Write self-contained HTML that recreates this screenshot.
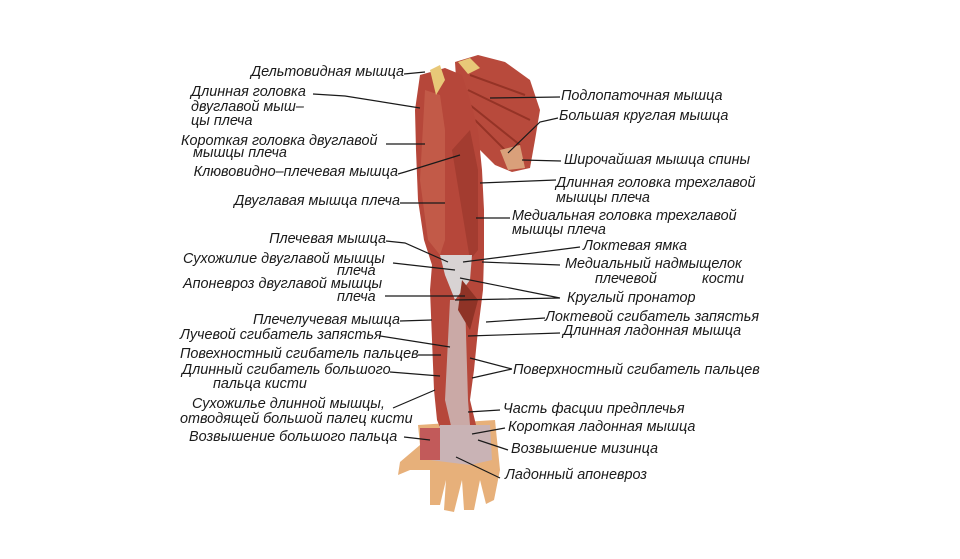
<!DOCTYPE html>
<html><head><meta charset="utf-8"><style>
html,body{margin:0;padding:0;background:#fff}
svg text{font-family:"Liberation Sans","DejaVu Sans",sans-serif;font-style:italic;font-size:14.4px;fill:#1a1a1a}
</style></head><body>
<svg width="960" height="554" viewBox="0 0 960 554" xmlns="http://www.w3.org/2000/svg">
<path d="M455,62 L478,55 L505,62 L530,80 L540,110 L535,140 L530,168 L512,172 L495,165 L470,140 L458,110 Z" fill="#b84a3c"/>
<path d="M470,75 L525,95 M468,90 L530,120 M470,105 L520,145 M475,120 L515,160" stroke="#7e2418" stroke-width="2" opacity=".6"/>
<path d="M500,150 L520,145 L525,168 L508,170 Z" fill="#d9a07a"/>
<path d="M458,62 L470,58 L480,68 L468,74 Z" fill="#e8c878"/>
<path d="M418,425 L495,420 L500,470 L494,500 L486,504 L480,480 L474,510 L464,510 L462,480 L454,512 L444,510 L446,480 L440,505 L430,505 L430,470 L410,470 L398,475 L400,462 L420,445 Z" fill="#e7b07a"/>
<path d="M420,75 L445,68 L462,75 L470,100 L478,130 L482,170 L484,210 L484,255 L483,290 L478,330 L474,370 L470,400 L476,425 L445,440 L437,420 L434,390 L432,340 L430,290 L432,265 L424,240 L418,200 L416,150 L415,110 Z" fill="#b6473a"/>
<path d="M425,90 L440,95 L445,130 L445,240 L440,255 L428,240 L420,180 Z" fill="#c25a48"/>
<path d="M452,150 L470,130 L478,170 L478,250 L470,260 Z" fill="#a33c30"/>
<path d="M440,255 L472,255 L470,280 L455,300 L445,275 Z" fill="#d8d3d3"/>
<path d="M450,300 L465,300 L468,400 L470,425 L452,430 L445,400 Z" fill="#cfc2c2" opacity=".8"/>
<path d="M440,425 L490,425 L492,460 L470,465 L430,460 Z" fill="#c9b3b5"/>
<path d="M420,428 L440,428 L440,460 L420,460 Z" fill="#c25a5a"/>
<path d="M430,70 L440,65 L445,80 L436,95 Z" fill="#e8c878"/>
<path d="M462,280 L478,300 L470,330 L458,310 Z" fill="#8f3326"/>
<g stroke="#1a1a1a" stroke-width="1.2" fill="none">
<path d="M404,74 L425,72"/>
<path d="M313,94 L345,96 L420,108"/>
<path d="M386,144 L425,144"/>
<path d="M398,174 L405,172 L460,155"/>
<path d="M400,203 L445,203"/>
<path d="M386,241 L405,243 L448,262"/>
<path d="M393,263 L455,270"/>
<path d="M385,296 L465,296"/>
<path d="M400,321 L432,320"/>
<path d="M380,336 L450,347"/>
<path d="M418,355 L441,355"/>
<path d="M390,372 L440,376"/>
<path d="M393,408 L435,390"/>
<path d="M404,437 L430,440"/>
<path d="M560,97 L490,98"/>
<path d="M558,118 L540,122 L508,153"/>
<path d="M561,161 L522,160"/>
<path d="M556,180 L480,183"/>
<path d="M510,218 L476,218"/>
<path d="M580,247 L463,262"/>
<path d="M560,265 L482,262"/>
<path d="M560,298 L460,278 M560,298 L455,300"/>
<path d="M545,318 L486,322"/>
<path d="M560,333 L468,336"/>
<path d="M512,369 L470,358 M512,369 L472,378"/>
<path d="M500,410 L468,412"/>
<path d="M505,428 L472,434"/>
<path d="M508,450 L478,440"/>
<path d="M500,478 L456,457"/>
</g>
<g>
<text x="404" y="76" text-anchor="end">Дельтовидная мышца</text>
<text x="191" y="96">Длинная головка</text>
<text x="191" y="111">двуглавой мыш–</text>
<text x="191" y="125">цы плеча</text>
<text x="181" y="145">Короткая головка  двуглавой</text>
<text x="193" y="157">мышцы плеча</text>
<text x="398" y="176" text-anchor="end">Клювовидно–плечевая мышца</text>
<text x="400" y="205" text-anchor="end">Двуглавая мышца плеча</text>
<text x="386" y="243" text-anchor="end">Плечевая  мышца</text>
<text x="183" y="263">Сухожилие двуглавой мышцы</text>
<text x="337" y="275">плеча</text>
<text x="183" y="288">Апоневроз двуглавой мышцы</text>
<text x="337" y="301">плеча</text>
<text x="400" y="324" text-anchor="end">Плечелучевая мышца</text>
<text x="180" y="339">Лучевой сгибатель запястья</text>
<text x="180" y="358">Повехностный сгибатель пальцев</text>
<text x="182" y="374">Длинный сгибатель большого</text>
<text x="213" y="388">пальца кисти</text>
<text x="192" y="408">Сухожилье длинной мышцы,</text>
<text x="180" y="423">отводящей большой палец кисти</text>
<text x="189" y="441">Возвышение большого пальца</text>
<text x="561" y="100">Подлопаточная мышца</text>
<text x="559" y="120">Большая круглая мышца</text>
<text x="564" y="164">Широчайшая мышца спины</text>
<text x="556" y="187">Длинная головка трехглавой</text>
<text x="556" y="202">мышцы плеча</text>
<text x="512" y="220">Медиальная головка трехглавой</text>
<text x="512" y="234">мышцы плеча</text>
<text x="583" y="250">Локтевая ямка</text>
<text x="565" y="268">Медиальный надмыщелок</text>
<text x="595" y="283">плечевой</text>
<text x="702" y="283">кости</text>
<text x="567" y="302">Круглый пронатор</text>
<text x="545" y="321">Локтевой сгибатель запястья</text>
<text x="563" y="335">Длинная ладонная мышца</text>
<text x="513" y="374">Поверхностный сгибатель пальцев</text>
<text x="503" y="413">Часть фасции предплечья</text>
<text x="508" y="431">Короткая ладонная мышца</text>
<text x="511" y="453">Возвышение мизинца</text>
<text x="505" y="479">Ладонный апоневроз</text>
</g>
</svg>
</body></html>
